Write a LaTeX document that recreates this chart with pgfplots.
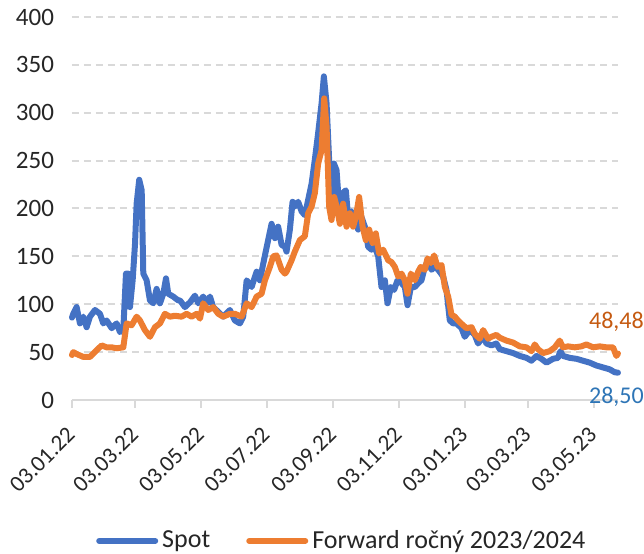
\documentclass[border=0pt]{standalone}
\usepackage{pgfplots}
\pgfplotsset{compat=1.18}
\usetikzlibrary{calc}
\usepackage{fontspec}
\setmainfont{Carlito}
\definecolor{cblue}{HTML}{4472C4}
\definecolor{corange}{HTML}{ED7D31}
\definecolor{tblue}{HTML}{2E75B6}
\definecolor{torange}{HTML}{C55A11}
\definecolor{gridgray}{HTML}{D9D9D9}
\definecolor{txt}{HTML}{262626}
\begin{document}
\begin{tikzpicture}
\begin{axis}[
  scale only axis, width=273pt, height=191.5pt,
  xmin=0, xmax=507.7, ymin=0, ymax=400,
  axis y line*=left, axis x line*=bottom,
  y axis line style={draw=none},
  x axis line style={draw=gridgray, line width=1pt},
  ytick={0,50,...,400},
  ymajorgrids, grid style={draw=gridgray, line width=1pt, dash pattern=on 3.5pt off 2.5pt},
  ytick style={draw=none},
  xtick={0,59,120,181,243,304,365,424,485},
  xticklabels={03.01.22,03.03.22,03.05.22,03.07.22,03.09.22,03.11.22,03.01.23,03.03.23,03.05.23},
  xtick style={draw=gridgray, line width=1pt},
  tick align=outside, major tick length=4pt,
  /pgf/number format/assume math mode=true,
  tick label style={text=txt},
  y tick label style={font=\fontsize{12.5}{15}\selectfont, xshift=-1.5pt},
  x tick label style={font=\fontsize{11.5}{14}\selectfont, xshift=2pt, yshift=-9pt, rotate=45, anchor=east},
  legend style={at={(axis description cs:0.496,-0.368)}, anchor=center, draw=none,
    legend columns=2, font=\fontsize{13}{15}\selectfont, text=txt,
    /tikz/every even column/.append style={column sep=16pt},
    inner sep=0pt},
  legend image code/.code={\draw[#1, line width=3pt, line cap=round] (0pt,0pt) -- (28pt,0pt);},
  clip=false,
]
\coordinate (bl) at (rel axis cs:0,0);
\coordinate (tr) at (rel axis cs:1,1);
\addplot[cblue, line width=3pt, line join=round, line cap=round] coordinates {
(0,86)(1.2,90)(4.3,97)(7.4,80)(10.5,87)(13.6,76)(16.7,87)(21.4,94)(26,90)(29.1,80)(32.2,83)(36.9,75)(41.5,80)(44.6,71)(47.7,73)(50.2,132)(52.3,132)(53.9,97)(56.4,125)(58.6,163)(60.1,205)(62.5,230)(64.8,219)(66.3,132)(69.4,125)(72.5,104)(75.6,101)(78.7,116)(81.8,101)(84.9,111)(87.4,127)(89.5,111)(94.1,108)(98.8,104)
(100.4,104)(105,97)(109.7,102)(114.3,109)(117.4,101)(122,108)(125.2,101)(128.3,108)(131.3,97)(136,92)(140.6,87)(146.8,94)(151.5,83)(156.1,80)(159.2,87)(162.4,125)(167,118)(171.7,134)(174.7,125)(179.4,151)(182.4,167)(185.6,184)(188.7,169)(191.7,181)(194.9,162)(198,160)
(199.5,155)(202.6,178)(205.1,207)(207.2,202)(210.3,207)(213.5,197)(216.5,193)(219.6,209)(222.8,226)(225.8,251)(228.9,279)(232.1,310)(234.2,338)(236.7,310)(239.1,251)(241.3,198)(243.5,247)(246,240)(248.4,202)(251.6,216)(254.6,219)(256.8,191)(259.9,197)(263,188)(266.1,178)(269.2,191)(272.3,181)(275.4,160)(278.5,157)(281.6,160)(284.7,150)(287.8,118)(290.9,125)
(293.4,101)(296.5,118)(299.5,115)(302.7,125)(306.4,122)(309.5,118)(312,99)(315.1,118)(318.8,118)(321.9,122)(325,125)(328.1,139)(331.1,146)(334.3,136)(337.4,139)(340.5,136)(345.1,129)(348.2,115)(351.3,83)(354.4,80)(357.5,80)(362.2,75)(365.2,66)(369.9,73)(374.5,68)(377.6,59)(382.3,66)(385.4,59)(390,57)(394.6,59)
(397.8,53)(404,51)(410.1,49)(416.4,46)(422.6,44)(427.2,41)(431.9,46)(436.5,43)(441.2,39)(447.3,43)(451.9,44)(454.2,51)(456.6,46)(462.8,44)(469.1,43)(475.2,41)(481.4,39)(487.6,36)(493.8,34)(500,32)(504.6,29)(507.7,28.5)
};
\addlegendentry{Spot}
\addplot[corange, line width=3pt, line join=round, line cap=round] coordinates {
(0,47)(1.2,50)(4.3,48)(10.5,45)(16.7,45)(22.9,52)(27.6,57)(32.2,55)(36.9,55)(41.5,54)(47.7,55)(50.8,80)(55.4,78)(60.1,87)(63.2,83)(67.8,73)(72.5,66)(77.1,76)(81.8,80)(86.4,90)(91.1,87)(95.7,88)
(101.9,87)(106.6,90)(111.2,87)(115.9,90)(119,85)(122,101)(126.7,94)(131.3,97)(136,90)(140.6,87)(146.8,90)(151.5,90)(157.7,87)(162.4,101)(167,97)(171.7,108)(176.3,111)(179.4,125)(184,139)(187.1,150)(190.2,151)(194.9,136)(198,132)
(199.5,134)(204.2,146)(207.2,155)(211.9,167)(216.5,171)(219.6,195)(222.8,202)(225.8,216)(228.9,247)(232.1,261)(234.5,315)(236.7,286)(239.1,202)(241.3,188)(243.8,212)(246,202)(249.1,184)(252.1,205)(255.3,181)(258.4,195)(261.4,181)(263.9,191)(267,212)(270.2,181)(273.2,167)(276.3,178)(279.5,164)(282.5,174)(285.6,153)(289.3,157)
(294,146)(297.1,144)(300.2,139)(303.3,129)(306.4,132)(309.5,125)(312,111)(315.1,132)(318.8,125)(321.9,134)(324.3,139)(328.1,136)(330.6,148)(333.6,143)(336.7,151)(339.9,139)(343.6,141)(346.7,118)(349.8,108)(352.9,89)(356,87)(359,83)(363.7,78)(366.8,75)(371.5,76)(374.5,69)(379.2,64)(382.3,73)(386.9,64)(390,66)(394.6,68)
(397.8,65)(404,62)(410.1,60)(416.4,56)(422.6,55)(427.2,51)(430.3,58)(433.4,53)(438,49)(444.2,51)(448.9,55)(453.5,62)(456.6,55)(461.3,56)(467.5,55)(473.7,56)(478.3,58)(484.5,55)(490.7,56)(496.9,55)(503.1,55)(506.2,46)(507.7,48.5)
};
\addlegendentry{Forward ročný 2023/2024}
\node[anchor=west, text=torange, font=\fontsize{12}{14}\selectfont, inner sep=0pt] at (axis cs:480.5,81.5) {48,48};
\node[anchor=west, text=tblue, font=\fontsize{12}{14}\selectfont, inner sep=0pt] at (axis cs:480.5,3.1) {28,50};
\end{axis}
\pgfresetboundingbox
\path[use as bounding box] ($(bl)+(-36pt,-77pt)$) rectangle ($(tr)+(13pt,8.5pt)$);
\end{tikzpicture}
\end{document}
